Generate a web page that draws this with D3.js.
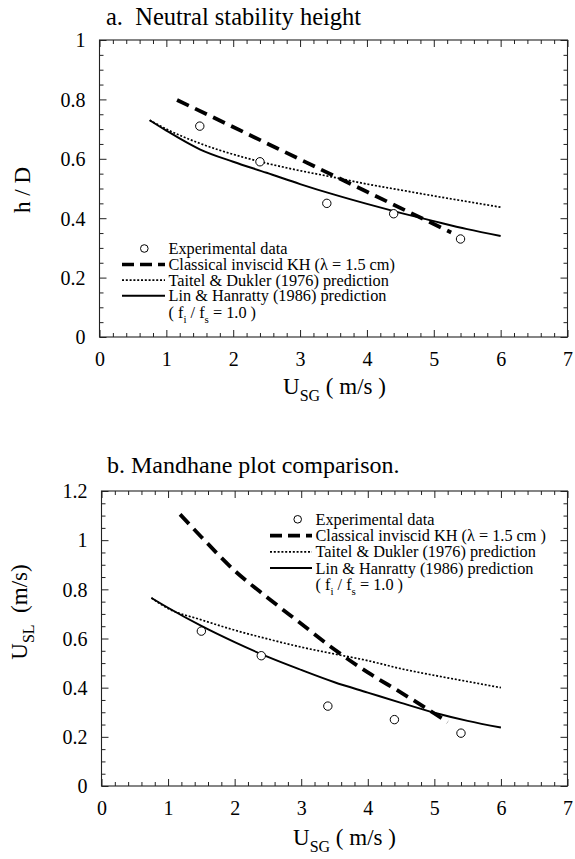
<!DOCTYPE html>
<html>
<head>
<meta charset="utf-8">
<script src="https://cdn.jsdelivr.net/npm/d3@7"></script>
<style>
  body { margin: 0; background: #fff; }
  svg { display: block; }
</style>
</head>
<body>
<svg id="chart" width="575" height="859"></svg>
<script>
// ---- Panel a: neutral stability height (h/D) vs U_SG ----
const expUsgA = [1.5, 2.4, 3.4, 4.4, 5.4];
const expHdA  = [0.71, 0.59, 0.45, 0.415, 0.33];
const khUsgA  = [1.16, 2, 3, 4, 5.26];
const khHdA   = [0.798, 0.707, 0.598, 0.489, 0.352];
const modelUsg = [0.75, 1, 1.5, 2, 2.5, 3, 3.5, 4, 4.5, 5, 5.5, 6];
const tdHdA   = [0.73, 0.70, 0.652, 0.615, 0.585, 0.56, 0.538, 0.515, 0.495, 0.475, 0.456, 0.437];
const lhHdA   = [0.73, 0.695, 0.632, 0.59, 0.553, 0.515, 0.48, 0.448, 0.418, 0.39, 0.363, 0.34];

// ---- Panel b: Mandhane plot, U_SL vs U_SG ----
const expUsgB = [1.5, 2.4, 3.4, 4.4, 5.4];
const expUslB = [0.63, 0.53, 0.325, 0.27, 0.215];
const khUsgB  = [1.18, 1.5, 2, 2.5, 3, 3.5, 4, 4.5, 5, 5.2];
const khUslB  = [1.105, 1.013, 0.876, 0.765, 0.66, 0.555, 0.462, 0.38, 0.295, 0.26];
const tdUslB  = [0.765, 0.722, 0.676, 0.634, 0.598, 0.565, 0.537, 0.51, 0.477, 0.45, 0.425, 0.40];
const lhUslB  = [0.765, 0.725, 0.651, 0.585, 0.525, 0.472, 0.422, 0.38, 0.338, 0.298, 0.265, 0.238];

// ---- Axis ticks ----
const xTicks = [0, 1, 2, 3, 4, 5, 6, 7];
const yTicksA = [0, 0.2, 0.4, 0.6, 0.8, 1];
const yTicksB = [0, 0.2, 0.4, 0.6, 0.8, 1, 1.2];

const legendLabelsA = [
  "Experimental data",
  "Classical inviscid KH (\u03bb = 1.5 cm)",
  "Taitel & Dukler (1976) prediction",
  "Lin & Hanratty (1986) prediction"
];
const legendLabelsB = [
  "Experimental data",
  "Classical inviscid KH (\u03bb = 1.5 cm )",
  "Taitel & Dukler (1976) prediction",
  "Lin & Hanratty (1986) prediction"
];

const SERIF = '"Liberation Serif", "Times New Roman", Times, serif';
const svg = d3.select("#chart");

const STYLE = {
  kh: { w: 3.8, dash: "13,7" },
  td: { w: 1.7, dash: "2,1.8" },
  lh: { w: 1.9, dash: null }
};

function range(a, b, step) {
  const out = [];
  for (let v = a; v <= b + 1e-9; v += step) out.push(+v.toFixed(4));
  return out;
}

// every text element gets the serif face inline
function serif(sel, size) {
  sel.style("font-family", SERIF).style("font-size", size + "px").style("fill", "#000")
    .style("white-space", "pre");
  return sel;
}

function drawPanel(cfg) {
  const g = svg.append("g");
  const x = d3.scaleLinear().domain([0, 7]).range([cfg.left, cfg.right]);
  const y = d3.scaleLinear().domain([0, cfg.ymax]).range([cfg.bottom, cfg.top]);
  const fmt = d => String(+d.toFixed(1));

  const minorX = range(0, 7, 0.2).filter(v => Math.abs(v - Math.round(v)) > 1e-6);
  const minorY = range(0, cfg.ymax, 0.05).filter(v => Math.abs(v * 5 - Math.round(v * 5)) > 1e-6);

  const axStyle = sel => {
    sel.select(".domain").remove();
    sel.selectAll("line").attr("stroke", "#222").attr("stroke-width", 1);
  };

  // bottom (labelled) and top (mirrored) x axes
  g.append("g").attr("transform", `translate(0,${cfg.bottom})`)
    .call(d3.axisBottom(x).tickValues(xTicks).tickSizeInner(-7).tickSizeOuter(0).tickFormat(fmt))
    .call(axStyle)
    .call(s => serif(s.selectAll("text"), 20).attr("y", 29).attr("dy", 0));
  g.append("g").attr("transform", `translate(0,${cfg.bottom})`)
    .call(d3.axisBottom(x).tickValues(minorX).tickSizeInner(-4).tickSizeOuter(0).tickFormat(""))
    .call(axStyle);
  g.append("g").attr("transform", `translate(0,${cfg.top})`)
    .call(d3.axisTop(x).tickValues(xTicks).tickSizeInner(-7).tickSizeOuter(0).tickFormat(""))
    .call(axStyle);
  g.append("g").attr("transform", `translate(0,${cfg.top})`)
    .call(d3.axisTop(x).tickValues(minorX).tickSizeInner(-4).tickSizeOuter(0).tickFormat(""))
    .call(axStyle);

  // left (labelled) and right (mirrored) y axes
  g.append("g").attr("transform", `translate(${cfg.left},0)`)
    .call(d3.axisLeft(y).tickValues(cfg.yTicks).tickSizeInner(-7).tickSizeOuter(0).tickPadding(14).tickFormat(fmt))
    .call(axStyle)
    .call(s => serif(s.selectAll("text"), 20).attr("dy", "0.34em"));
  g.append("g").attr("transform", `translate(${cfg.left},0)`)
    .call(d3.axisLeft(y).tickValues(minorY).tickSizeInner(-4).tickSizeOuter(0).tickFormat(""))
    .call(axStyle);
  g.append("g").attr("transform", `translate(${cfg.right},0)`)
    .call(d3.axisRight(y).tickValues(cfg.yTicks).tickSizeInner(-7).tickSizeOuter(0).tickFormat(""))
    .call(axStyle);
  g.append("g").attr("transform", `translate(${cfg.right},0)`)
    .call(d3.axisRight(y).tickValues(minorY).tickSizeInner(-4).tickSizeOuter(0).tickFormat(""))
    .call(axStyle);

  // frame
  g.append("rect")
    .attr("x", cfg.left).attr("y", cfg.top)
    .attr("width", cfg.right - cfg.left).attr("height", cfg.bottom - cfg.top)
    .attr("fill", "none").attr("stroke", "#222").attr("stroke-width", 1.1);

  const line = d3.line().x(d => x(d[0])).y(d => y(d[1])).curve(d3.curveMonotoneX);
  const addLine = (xs, ys, st) => {
    g.append("path")
      .datum(xs.map((v, i) => [v, ys[i]]))
      .attr("d", line)
      .attr("fill", "none").attr("stroke", "#000")
      .attr("stroke-width", st.w)
      .attr("stroke-dasharray", st.dash);
  };
  addLine(modelUsg, cfg.td, STYLE.td);
  addLine(modelUsg, cfg.lh, STYLE.lh);
  addLine(cfg.khX, cfg.khY, STYLE.kh);

  g.selectAll("circle.exp")
    .data(cfg.expX.map((v, i) => [v, cfg.expY[i]]))
    .join("circle")
    .attr("class", "exp")
    .attr("cx", d => x(d[0])).attr("cy", d => y(d[1])).attr("r", 4.2)
    .attr("fill", "#fff").attr("stroke", "#000").attr("stroke-width", 1);

  // panel title
  serif(g.append("text"), cfg.titleSize).attr("x", cfg.titleX).attr("y", cfg.titleY).text(cfg.title);

  // x axis title: U_SG ( m/s )
  const xt = serif(g.append("text"), 23).attr("x", cfg.xTitleX).attr("y", cfg.xTitleY);
  xt.append("tspan").text("U");
  xt.append("tspan").style("font-size", "16px").attr("dy", 7).text("SG");
  xt.append("tspan").attr("dy", -7).text(" ( m/s )");

  // y axis title
  const yt = serif(g.append("text"), 23)
    .attr("transform", `translate(${cfg.yTitleX},${cfg.yTitleY}) rotate(-90)`)
    .attr("text-anchor", "middle");
  cfg.yTitle(yt);

  // legend
  const L = cfg.legend;
  const lg = g.append("g");
  lg.append("circle").attr("cx", L.cx).attr("cy", L.rows[0]).attr("r", 3.8)
    .attr("fill", "#fff").attr("stroke", "#000").attr("stroke-width", 1);
  [STYLE.kh, STYLE.td, STYLE.lh].forEach((st, i) => {
    lg.append("line")
      .attr("x1", L.x1).attr("x2", L.x2)
      .attr("y1", L.rows[i + 1]).attr("y2", L.rows[i + 1])
      .attr("stroke", "#000").attr("stroke-width", i === 0 ? 3.6 : st.w)
      .attr("stroke-dasharray", i === 0 ? "12,6" : st.dash);
  });
  cfg.legendLabels.forEach((t, i) => {
    serif(lg.append("text"), 16.3).attr("x", L.tx).attr("y", L.rows[i] + 5.5).text(t);
  });
  const ft = serif(lg.append("text"), 16.3).attr("x", L.tx).attr("y", L.rows[4] + 5.5);
  ft.append("tspan").text("( f");
  ft.append("tspan").style("font-size", "11px").attr("dy", 5).text("i");
  ft.append("tspan").attr("dy", -5).text(" / f");
  ft.append("tspan").style("font-size", "11px").attr("dy", 5).text("s");
  ft.append("tspan").attr("dy", -5).text(" = 1.0 )");
}

drawPanel({
  left: 99.5, right: 567.5, top: 40, bottom: 337, ymax: 1, yTicks: yTicksA,
  expX: expUsgA, expY: expHdA, khX: khUsgA, khY: khHdA, td: tdHdA, lh: lhHdA,
  title: "a.  Neutral stability height", titleX: 106, titleY: 25, titleSize: 24.5,
  xTitleX: 283, xTitleY: 394,
  yTitleX: 30, yTitleY: 190,
  yTitle: t => t.text("h / D"),
  legendLabels: legendLabelsA,
  legend: { cx: 144.3, x1: 122, x2: 165, tx: 168.5, rows: [248.5, 264.5, 280.2, 295.8, 312] }
});

drawPanel({
  left: 101.5, right: 567.5, top: 491, bottom: 786, ymax: 1.2, yTicks: yTicksB,
  expX: expUsgB, expY: expUslB, khX: khUsgB, khY: khUslB, td: tdUslB, lh: lhUslB,
  title: "b. Mandhane plot comparison.", titleX: 107, titleY: 473, titleSize: 24,
  xTitleX: 293, xTitleY: 845,
  yTitleX: 27, yTitleY: 612,
  yTitle: t => {
    t.append("tspan").text("U");
    t.append("tspan").style("font-size", "16px").attr("dy", 7).text("SL");
    t.append("tspan").attr("dy", -7).text("  (m/s)");
  },
  legendLabels: legendLabelsB,
  legend: { cx: 297.7, x1: 270, x2: 312, tx: 315.5, rows: [519.3, 535.6, 551.8, 568, 584.2] }
});
</script>
</body>
</html>
